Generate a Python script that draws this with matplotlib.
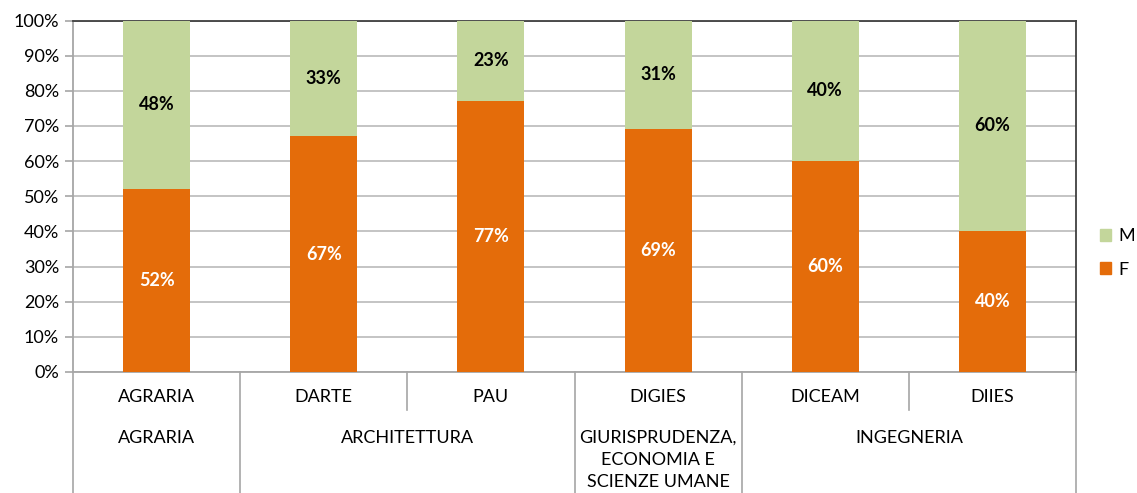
import numpy as np
import matplotlib
matplotlib.use("Agg")
import matplotlib.pyplot as plt
from matplotlib.patches import Patch

plt.rcParams['font.family'] = ['Lato', 'DejaVu Sans']

# === Dati ===
dipartimenti = ["AGRARIA", "DARTE", "PAU", "DIGIES", "DICEAM", "DIIES"]
aree = ["AGRARIA", "ARCHITETTURA", "GIURISPRUDENZA,\nECONOMIA E\nSCIENZE UMANE", "INGEGNERIA"]
aree_span = [(0, 0), (1, 2), (3, 3), (4, 5)]  # indici dei dipartimenti per area
perc_f = [52, 67, 77, 69, 60, 40]
perc_m = [48, 33, 23, 31, 40, 60]

arancio = "#E46C0A"
verde = "#C3D69B"
grigio = "#A6A6A6"
fs = 13

fig = plt.figure(figsize=(11.37, 4.93), dpi=100)
ax = fig.add_axes([73 / 1137, 1 - 372 / 493, 1003 / 1137, 351.5 / 493])

x = np.arange(len(dipartimenti))
ax.bar(x, perc_f, width=0.4, color=arancio, zorder=3)
ax.bar(x, perc_m, width=0.4, bottom=perc_f, color=verde, zorder=3)

# etichette dentro le barre
for i in range(len(x)):
    ax.text(x[i], perc_f[i] / 2, f"{perc_f[i]}%", ha="center", va="center",
            color="white", fontsize=fs, fontweight="bold", zorder=4)
    ax.text(x[i], perc_f[i] + perc_m[i] / 2, f"{perc_m[i]}%", ha="center", va="center",
            color="black", fontsize=fs, fontweight="bold", zorder=4)

ax.set_xlim(-0.5, len(x) - 0.5)
ax.set_ylim(0, 100)
ax.set_yticks(range(0, 101, 10))
ax.set_yticklabels([f"{v}%" for v in range(0, 101, 10)], fontsize=fs)
ax.tick_params(axis="y", length=6, color=grigio, width=1.2, pad=4)
ax.set_xticks([])
ax.grid(axis="y", color="#BFBFBF", linewidth=1.3, zorder=0)

ax.spines["top"].set_color("#404040")
ax.spines["right"].set_color("#404040")
ax.spines["left"].set_color(grigio)
ax.spines["bottom"].set_color(grigio)
for s in ax.spines.values():
    s.set_linewidth(1.3)

# === asse categorie a due livelli ===
trans = ax.get_xaxis_transform()
h_full = -121 / 351.5
h_short = -38 / 351.5
for inizio, fine in aree_span:
    ax.plot([inizio - 0.5, inizio - 0.5], [0, h_full], color=grigio, lw=1.2,
            transform=trans, clip_on=False)
ax.plot([len(x) - 0.5, len(x) - 0.5], [0, h_full], color=grigio, lw=1.2,
        transform=trans, clip_on=False)
for inizio, fine in aree_span:
    for k in range(inizio, fine):
        ax.plot([k + 0.5, k + 0.5], [0, h_short], color=grigio, lw=1.2,
                transform=trans, clip_on=False)

for i, d in enumerate(dipartimenti):
    ax.text(x[i], -25 / 351.5, d, ha="center", va="center", fontsize=fs,
            transform=trans)
for nome, (inizio, fine) in zip(aree, aree_span):
    ax.text((inizio + fine) / 2, -58 / 351.5, nome, ha="center", va="top",
            fontsize=fs, transform=trans, linespacing=1.47)

# === legenda ===
handles = [Patch(color=verde, label="M"), Patch(color=arancio, label="F")]
fig.legend(handles=handles, loc="center left", bbox_to_anchor=(1100 / 1137, 1 - 253 / 493),
           frameon=False, fontsize=fs, handlelength=0.6, handleheight=0.6,
           handletextpad=0.4, labelspacing=0.95, borderaxespad=0, borderpad=0)

fig.savefig("out.png", dpi=100)
